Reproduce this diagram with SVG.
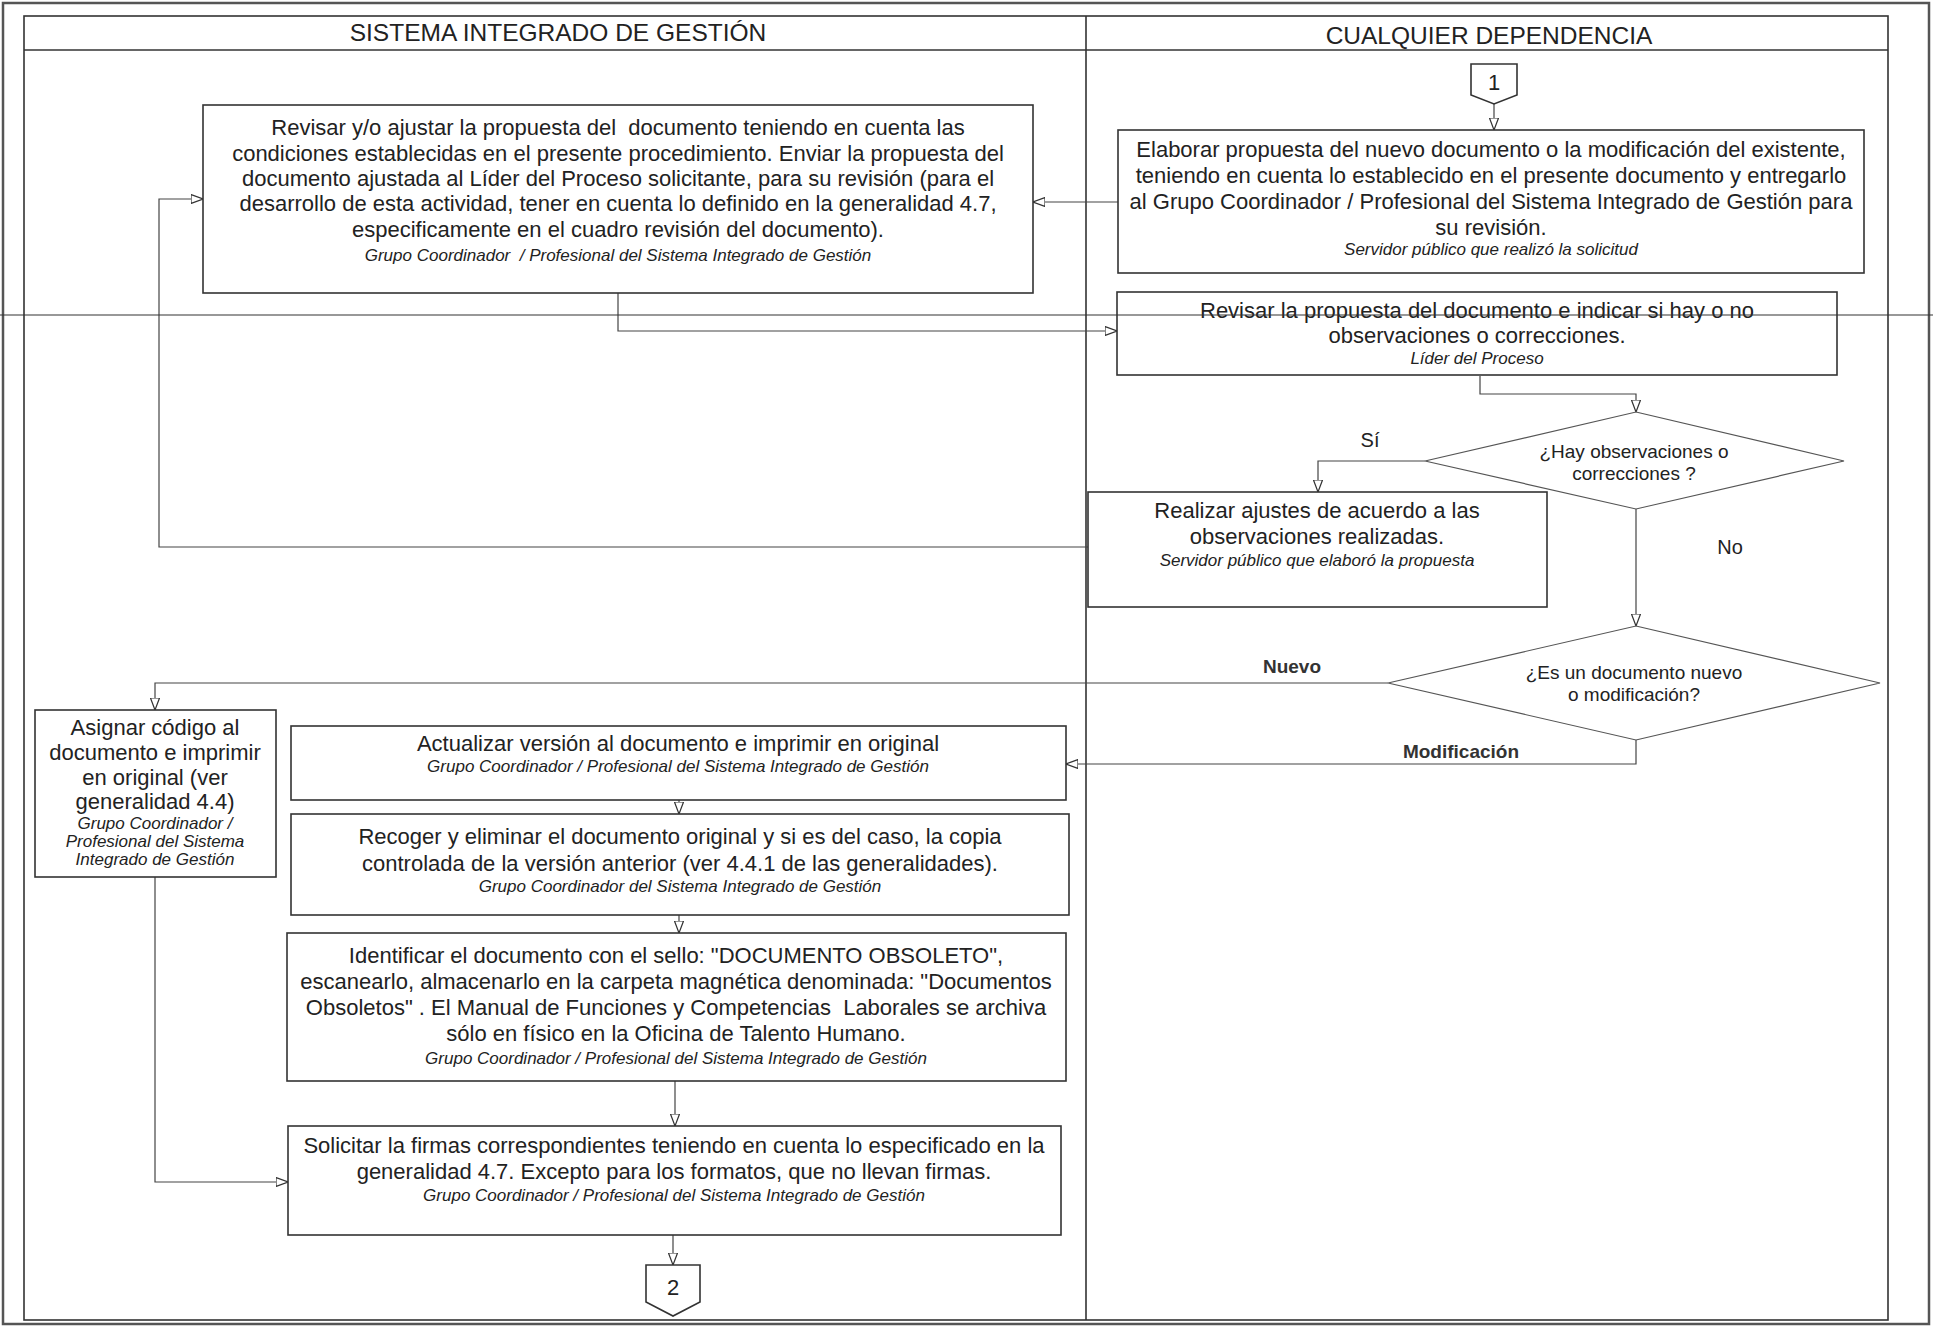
<svg xmlns="http://www.w3.org/2000/svg" width="1933" height="1330" viewBox="0 0 1933 1330">
<defs>
<marker id="arr" viewBox="0 0 12 10" refX="12" refY="5" markerWidth="12" markerHeight="10" markerUnits="userSpaceOnUse" orient="auto">
<path d="M0,0.5 L12,5 L0,9.5 Z" fill="#fff" stroke="#333" stroke-width="1.2"/>
</marker>
<style>
text{font-family:"Liberation Sans",Arial,sans-serif;fill:#222;text-anchor:middle;white-space:pre}
.m{font-size:22px}
.i{font-size:17px;font-style:italic}
.d{font-size:19px}
.t{font-size:24.5px}
.l{font-size:20px}
.b{font-size:19px;font-weight:bold;fill:#333}
.box{fill:#fff;stroke:#333;stroke-width:1.6}
.dia{fill:#fff;stroke:#555;stroke-width:1.2}
.frame{fill:none;stroke:#333;stroke-width:1.6}
.con{fill:none;stroke:#444;stroke-width:1.2;marker-end:url(#arr)}
</style>
</defs>
<rect width="1933" height="1330" fill="#fff"/>
<g id="frame">
<rect x="3" y="3" width="1926" height="1321" fill="none" stroke="#555" stroke-width="2.5"/>
<rect class="frame" x="24" y="16" width="1864" height="1304"/>
<line class="frame" x1="24" y1="50" x2="1888" y2="50"/>
<line class="frame" x1="1086" y1="16" x2="1086" y2="1320"/>
<text class="t" x="558" y="41">SISTEMA INTEGRADO DE GESTIÓN</text>
<text class="t" x="1489" y="44">CUALQUIER DEPENDENCIA</text>
</g>
<g id="connectors">
<path class="con" d="M1494,104 L1494,130"/>
<path class="con" d="M1118,202 L1033,202"/>
<path class="con" d="M618,293 L618,331 L1117,331"/>
<path class="con" d="M1480,376 L1480,394 L1636,394 L1636,412"/>
<path class="con" d="M1425,461 L1318,461 L1318,492"/>
<path class="con" d="M1088,547 L159,547 L159,199 L203,199"/>
<path class="con" d="M1636,509 L1636,626"/>
<path class="con" d="M1388,683 L155,683 L155,710"/>
<path class="con" d="M1636,740 L1636,764 L1066,764"/>
<path class="con" d="M679,800 L679,814"/>
<path class="con" d="M679,915 L679,933"/>
<path class="con" d="M675,1081 L675,1126"/>
<path class="con" d="M155,877 L155,1182 L288,1182"/>
<path class="con" d="M673,1235 L673,1265"/>
<text class="l" x="1370" y="447">Sí</text>
<text class="l" x="1730" y="554">No</text>
<text class="b" x="1292" y="673">Nuevo</text>
<text class="b" x="1461" y="758">Modificación</text>
</g>
<g id="start1">
<path class="box" d="M1471,64 L1517,64 L1517,95 L1494,104 L1471,95 Z"/>
<text class="m" x="1494" y="90">1</text>
</g>
<g id="nodeA">
<rect class="box" x="203" y="105" width="830" height="188"/>
<text class="m" x="618" y="135">Revisar y/o ajustar la propuesta del  documento teniendo en cuenta las</text>
<text class="m" x="618" y="161">condiciones establecidas en el presente procedimiento. Enviar la propuesta del</text>
<text class="m" x="618" y="186">documento ajustada al Líder del Proceso solicitante, para su revisión (para el</text>
<text class="m" x="618" y="211">desarrollo de esta actividad, tener en cuenta lo definido en la generalidad 4.7,</text>
<text class="m" x="618" y="237">especificamente en el cuadro revisión del documento).</text>
<text class="i" x="618" y="261">Grupo Coordinador  / Profesional del Sistema Integrado de Gestión</text>
</g>
<g id="nodeB">
<rect class="box" x="1118" y="130" width="746" height="143"/>
<text class="m" x="1491" y="157">Elaborar propuesta del nuevo documento o la modificación del existente,</text>
<text class="m" x="1491" y="183">teniendo en cuenta lo establecido en el presente documento y entregarlo</text>
<text class="m" x="1491" y="209">al Grupo Coordinador / Profesional del Sistema Integrado de Gestión para</text>
<text class="m" x="1491" y="235">su revisión.</text>
<text class="i" x="1491" y="255">Servidor público que realizó la solicitud</text>
</g>
<g id="nodeC">
<rect class="box" x="1117" y="292" width="720" height="83"/>
<text class="m" x="1477" y="318">Revisar la propuesta del documento e indicar si hay o no</text>
<text class="m" x="1477" y="343">observaciones o correcciones.</text>
<text class="i" x="1477" y="364">Líder del Proceso</text>
</g>
<g id="decision1">
<path class="dia" d="M1636,412 L1844,461 L1636,509 L1425,461 Z"/>
<text class="d" x="1634" y="458">¿Hay observaciones o</text>
<text class="d" x="1634" y="480">correcciones ?</text>
</g>
<g id="nodeE">
<rect class="box" x="1088" y="492" width="459" height="115"/>
<text class="m" x="1317" y="518">Realizar ajustes de acuerdo a las</text>
<text class="m" x="1317" y="544">observaciones realizadas.</text>
<text class="i" x="1317" y="566">Servidor público que elaboró la propuesta</text>
</g>
<g id="decision2">
<path class="dia" d="M1636,626 L1880,683 L1636,740 L1388,683 Z"/>
<text class="d" x="1634" y="679">¿Es un documento nuevo</text>
<text class="d" x="1634" y="701">o modificación?</text>
</g>
<g id="nodeF">
<rect class="box" x="35" y="710" width="241" height="167"/>
<text class="m" x="155" y="735">Asignar código al</text>
<text class="m" x="155" y="760">documento e imprimir</text>
<text class="m" x="155" y="785">en original (ver</text>
<text class="m" x="155" y="809">generalidad 4.4)</text>
<text class="i" x="155" y="829">Grupo Coordinador /</text>
<text class="i" x="155" y="847">Profesional del Sistema</text>
<text class="i" x="155" y="865">Integrado de Gestión</text>
</g>
<g id="nodeG">
<rect class="box" x="291" y="726" width="775" height="74"/>
<text class="m" x="678" y="751">Actualizar versión al documento e imprimir en original</text>
<text class="i" x="678" y="772">Grupo Coordinador / Profesional del Sistema Integrado de Gestión</text>
</g>
<g id="nodeH">
<rect class="box" x="291" y="814" width="778" height="101"/>
<text class="m" x="680" y="844">Recoger y eliminar el documento original y si es del caso, la copia</text>
<text class="m" x="680" y="871">controlada de la versión anterior (ver 4.4.1 de las generalidades).</text>
<text class="i" x="680" y="892">Grupo Coordinador del Sistema Integrado de Gestión</text>
</g>
<g id="nodeI">
<rect class="box" x="287" y="933" width="779" height="148"/>
<text class="m" x="676" y="963">Identificar el documento con el sello: "DOCUMENTO OBSOLETO",</text>
<text class="m" x="676" y="989">escanearlo, almacenarlo en la carpeta magnética denominada: "Documentos</text>
<text class="m" x="676" y="1015">Obsoletos" . El Manual de Funciones y Competencias  Laborales se archiva</text>
<text class="m" x="676" y="1041">sólo en físico en la Oficina de Talento Humano.</text>
<text class="i" x="676" y="1064">Grupo Coordinador / Profesional del Sistema Integrado de Gestión</text>
</g>
<g id="nodeJ">
<rect class="box" x="288" y="1126" width="773" height="109"/>
<text class="m" x="674" y="1153">Solicitar la firmas correspondientes teniendo en cuenta lo especificado en la</text>
<text class="m" x="674" y="1179">generalidad 4.7. Excepto para los formatos, que no llevan firmas.</text>
<text class="i" x="674" y="1201">Grupo Coordinador / Profesional del Sistema Integrado de Gestión</text>
</g>
<g id="end2">
<path class="box" d="M646,1265 L700,1265 L700,1302 L673,1316 L646,1302 Z"/>
<text class="m" x="673" y="1295">2</text>
</g>
<line x1="0" y1="315" x2="1933" y2="315" stroke="#333" stroke-width="1.2"/>
</svg>
